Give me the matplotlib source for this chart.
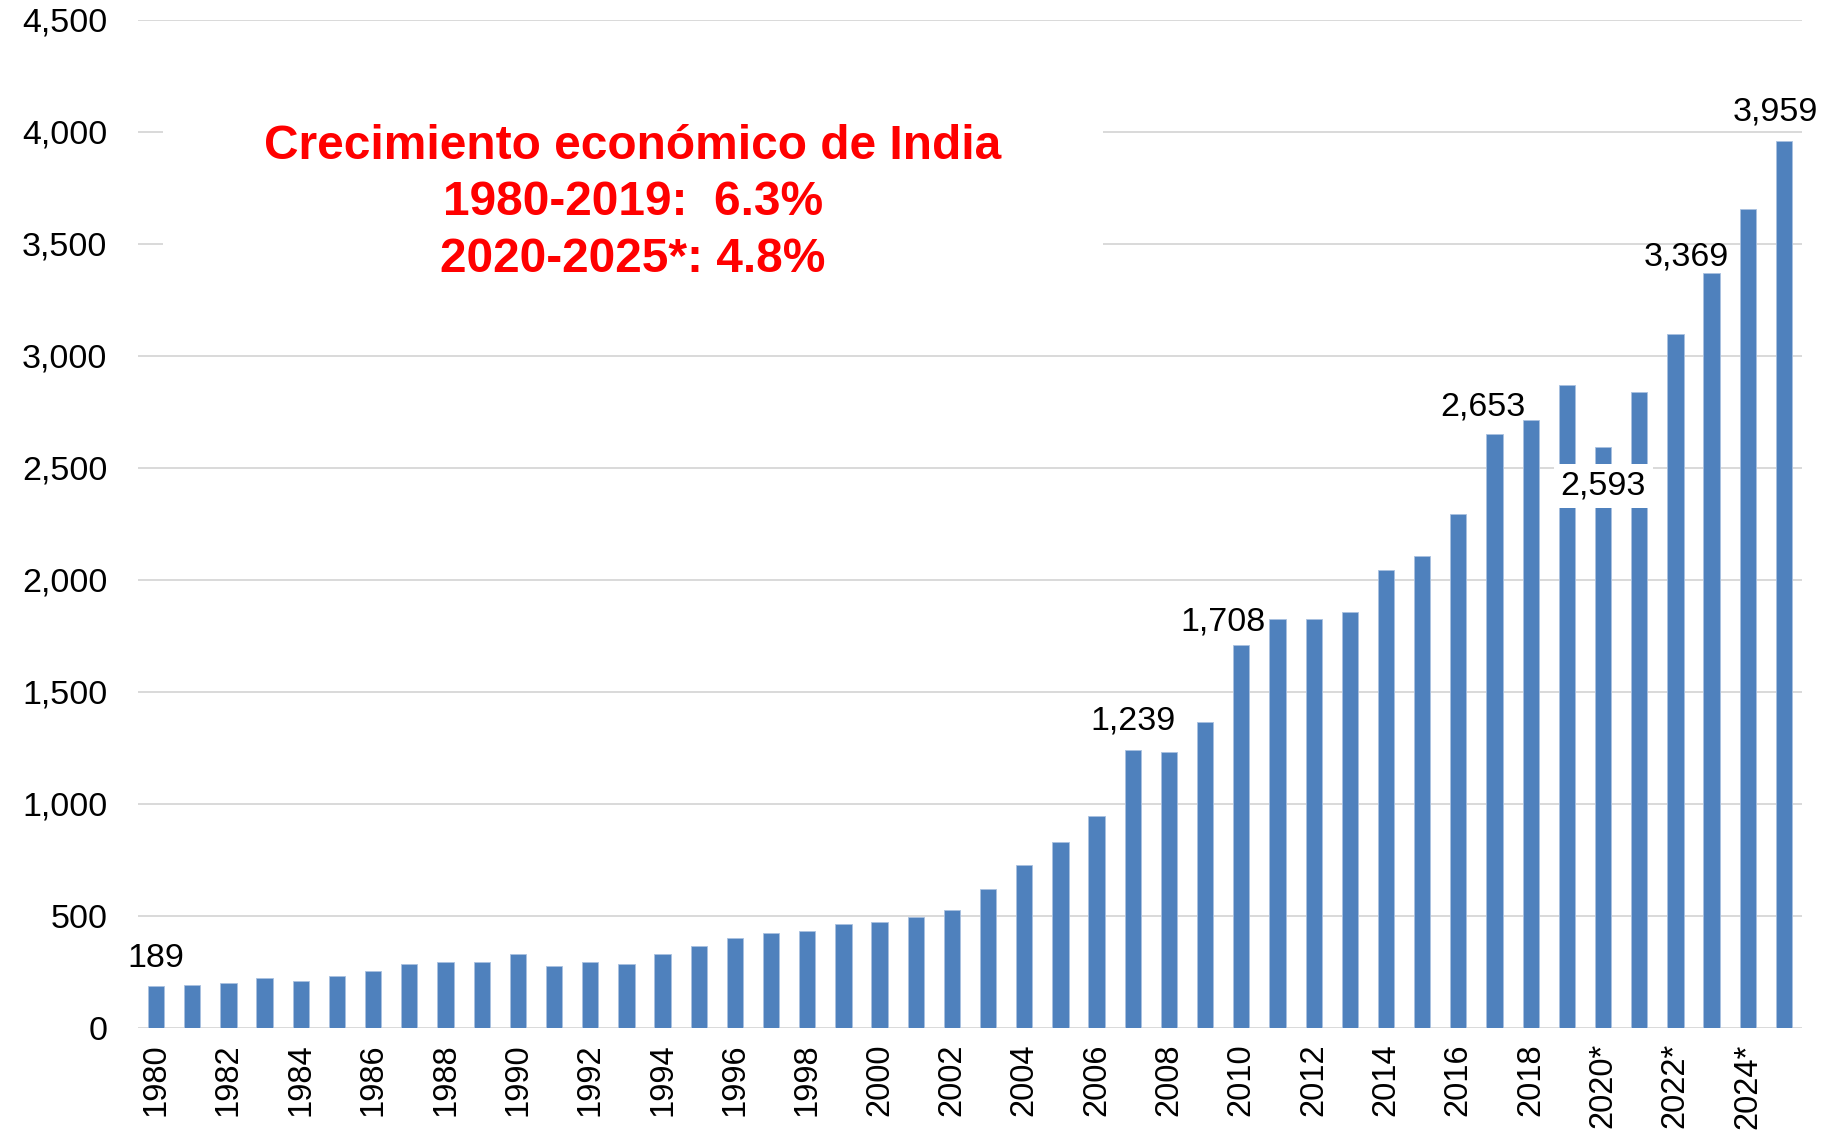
import matplotlib
matplotlib.use("Agg")
import matplotlib.pyplot as plt
from matplotlib.patches import Rectangle
import numpy as np

# GDP per capita of India (US$), 1980-2025 (* = estimate)
years = list(range(1980, 2026))
gdp_per_capita = [189, 190, 202, 223, 211, 234, 254, 286, 296, 296,
                  328, 275, 296, 286, 328, 368, 401, 422, 433, 464,
                  475, 496, 527, 621, 728, 832, 947, 1239, 1232, 1366,
                  1708, 1827, 1827, 1857, 2045, 2107, 2295, 2653, 2713, 2869,
                  2593, 2838, 3100, 3369, 3656, 3959]
year_labels = [f"{y}*" if y >= 2020 else str(y) for y in years]
labelled_years = [1980, 2007, 2010, 2017, 2020, 2023, 2025]
title_lines = ["Crecimiento económico de India",
               "1980-2019:  6.3%",
               "2020-2025*: 4.8%"]

# label placement (offsets in points from the bar top)
label_offsets = {1980: (0, 19.5), 2007: (0, 21), 2010: (-13.5, 17),
                 2017: (-8.5, 19.5), 2020: (0, -28), 2023: (-18, 11.5),
                 2025: (-6.5, 21)}

plt.rcParams['font.family'] = ['Liberation Sans', 'DejaVu Sans']

fig = plt.figure(figsize=(18.38, 11.36), dpi=100)
ax = fig.add_axes([0.0751, 0.0951, 0.9053, 0.8873])

x = np.arange(len(years))
ax.bar(x, gdp_per_capita, width=0.45, color='#4F81BD',
       edgecolor='#A9C1E0', linewidth=0.6, zorder=3)

ax.set_xlim(-0.5, len(years) - 0.5)
ax.set_ylim(0, 4500)
ax.set_yticks(np.arange(0, 4501, 500))
ax.set_yticklabels([f"{v:,}" for v in range(0, 4501, 500)])
ax.set_xticks(x[::2])
ax.set_xticklabels(year_labels[::2], rotation=90, va='top', ha='center')

ax.tick_params(axis='y', length=0, pad=22, labelsize=24.5, labelcolor='black')
ax.tick_params(axis='x', length=0, pad=11, labelsize=23.5, labelcolor='black')
ax.grid(axis='y', color='#D9D9D9', linewidth=1.4, zorder=0)
ax.set_axisbelow(True)
for s in ax.spines.values():
    s.set_visible(False)

# value labels
for yr in labelled_years:
    i = years.index(yr)
    val = gdp_per_capita[i]
    dx, dy = label_offsets[yr]
    kw = {}
    if dy < 0:
        kw['bbox'] = dict(boxstyle='square,pad=0.2', fc='white', ec='none')
    ax.annotate(f"{val:,}", xy=(x[i], val), xytext=(dx, dy),
                textcoords='offset points', ha='center', va='center',
                fontsize=24.5, color='black', zorder=5, **kw)

# title box
ax.add_patch(Rectangle((0.015, 0.72), 0.565, 0.23, transform=ax.transAxes,
                       facecolor='white', edgecolor='none', zorder=1))
ax.text(0.2975, 0.8185, "\n".join(title_lines), transform=ax.transAxes,
        ha='center', va='center', multialignment='center',
        fontsize=34.5, fontweight='bold', color='#FF0000',
        linespacing=1.32, zorder=6)

fig.savefig("out.png", dpi=100, facecolor='white')
